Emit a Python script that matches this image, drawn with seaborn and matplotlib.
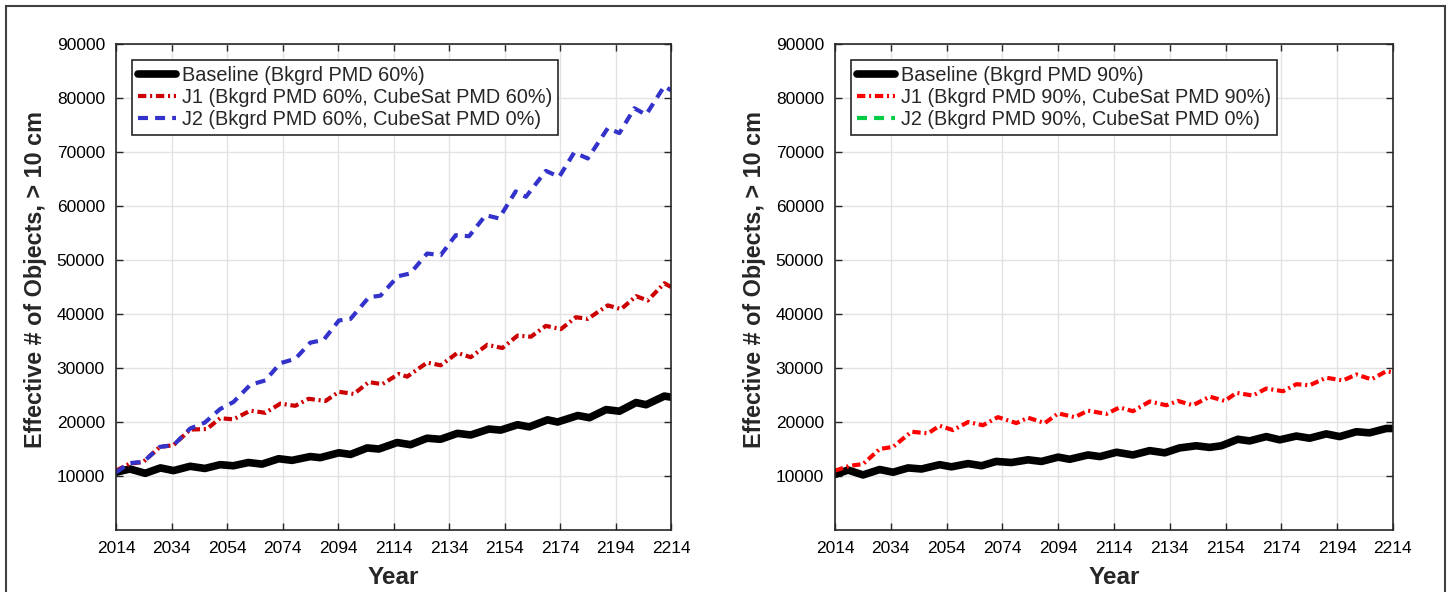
import matplotlib
matplotlib.use("Agg")
import matplotlib.pyplot as plt
import seaborn as sns
import pandas as pd
from matplotlib.lines import Line2D
from matplotlib.patches import Rectangle

# ---- left panel (Bkgrd PMD 60%) ----
base60_yr = [2014, 2019, 2024.5, 2030, 2034.7, 2040.7, 2046, 2051.5, 2056.3, 2061.7,
             2066.6, 2072.6, 2077.4, 2084, 2087.6, 2094.3, 2098.5, 2104.5, 2108.7, 2115.3,
             2120.1, 2126.1, 2130.9, 2137, 2141.8, 2148.4, 2152.6, 2158.7, 2162.9, 2169.5,
             2173.1, 2180.4, 2184.6, 2190.6, 2195.4, 2201.4, 2205, 2211.6, 2214]
base60_val = [10700, 11300, 10500, 11500, 11000, 11800, 11400, 12100, 11900, 12500,
              12200, 13200, 12900, 13600, 13400, 14300, 14000, 15200, 15000, 16200,
              15800, 17000, 16800, 17900, 17600, 18700, 18500, 19500, 19100, 20400,
              20000, 21200, 20800, 22300, 22000, 23600, 23200, 24800, 24600]

j1_60_yr = [2014, 2019, 2023.8, 2029.8, 2034.7, 2040.7, 2046.7, 2051.5, 2056.3, 2062.4,
            2067.8, 2073.2, 2078.6, 2083.4, 2089.5, 2094.3, 2099.7, 2105.1, 2109.9, 2115.9,
            2118.9, 2126.1, 2131, 2137, 2141.8, 2147.8, 2153.2, 2158.7, 2163.5, 2168.9,
            2174.3, 2179.7, 2184, 2191.2, 2196, 2201.4, 2205.6, 2211.6, 2214]
j1_60_val = [11000, 12300, 12600, 15400, 15700, 18600, 18700, 20700, 20500, 22100,
             21700, 23400, 23000, 24300, 23900, 25600, 25200, 27400, 27000, 28900,
             28400, 31000, 30500, 32800, 32000, 34300, 33700, 36000, 35800, 37800,
             37200, 39400, 39100, 41600, 40900, 43300, 42500, 45700, 45000]

j2_60_yr = [2014, 2019, 2023.8, 2029.8, 2034.7, 2040.7, 2046, 2051.5, 2056.3, 2062.4,
            2067.8, 2073.2, 2078.6, 2084, 2088.8, 2094.3, 2098.5, 2105.1, 2109.3, 2115.6,
            2120, 2126.1, 2131, 2136.4, 2141.2, 2147.2, 2152, 2158, 2161.7, 2168.9,
            2173.7, 2179.1, 2184, 2191.2, 2195.4, 2200.8, 2205, 2211.6, 2214]
j2_60_val = [10700, 12400, 12600, 15400, 15700, 18800, 19900, 22400, 23700, 26900,
             27700, 30900, 31700, 34700, 35200, 38800, 39100, 43100, 43400, 47000,
             47500, 51200, 50900, 54600, 54400, 58300, 57700, 62700, 61700, 66500,
             65400, 69900, 68800, 74400, 73500, 78100, 76900, 82200, 81400]

# ---- right panel (Bkgrd PMD 90%) ----
base90_yr = [2014, 2018.7, 2024, 2030, 2034.8, 2040.2, 2045, 2051.5, 2055.7, 2061.7,
             2066.5, 2071.8, 2077.2, 2083.2, 2088, 2094, 2098.1, 2104.7, 2109, 2114.9,
             2120.8, 2126.8, 2132.2, 2137.5, 2143.5, 2148.3, 2152.5, 2158.4, 2162.6, 2168.6,
             2173.4, 2179.4, 2184.1, 2190.1, 2194.9, 2200.9, 2205.6, 2211.6, 2214]
base90_val = [10300, 11100, 10200, 11200, 10700, 11500, 11300, 12100, 11700, 12300,
              11900, 12700, 12500, 13000, 12700, 13500, 13100, 13900, 13600, 14400,
              13900, 14700, 14300, 15200, 15600, 15300, 15600, 16800, 16500, 17300,
              16700, 17400, 17000, 17800, 17300, 18200, 18000, 18800, 18800]

j1_90_yr = [2014, 2019.3, 2024, 2030, 2034.8, 2041.4, 2047.3, 2051.5, 2056.3, 2061.7,
            2067, 2072.4, 2079, 2083.2, 2089.2, 2094, 2099.9, 2104.7, 2111.3, 2116,
            2120.8, 2126.8, 2132.8, 2136.9, 2142.3, 2148.3, 2153.7, 2157.9, 2163.8, 2168.6,
            2174.6, 2179.4, 2184.1, 2190.1, 2196.1, 2200.9, 2206.3, 2211.6, 2214]
j1_90_val = [11000, 11900, 12200, 15000, 15400, 18200, 17900, 19300, 18500, 20000,
             19400, 20900, 19800, 20800, 19800, 21600, 20900, 22100, 21500, 22700,
             22000, 23800, 23100, 23900, 23100, 24700, 23900, 25400, 24900, 26200,
             25700, 27000, 26800, 28200, 27700, 28800, 27900, 29400, 29200]

x_ticks = list(range(2014, 2215, 20))
y_ticks = list(range(10000, 90001, 10000))

sns.set_style("whitegrid")
plt.rcParams["font.family"] = ["Liberation Sans", "DejaVu Sans"]

fig = plt.figure(figsize=(14.49, 5.92), dpi=100)
ax1 = fig.add_axes([0.0801, 0.1047, 0.383, 0.821])
ax2 = fig.add_axes([0.5763, 0.1047, 0.385, 0.821])

dash = (0, (2.4, 1.7))
dashdot = (0, (2.0, 0.9, 0.5, 0.9))

sns.lineplot(x=base60_yr, y=base60_val, ax=ax1, color="black", lw=5.5,
             label="Baseline (Bkgrd PMD 60%)", solid_joinstyle="round")
sns.lineplot(x=j1_60_yr, y=j1_60_val, ax=ax1, color="#CC0000", lw=3,
             linestyle=dashdot, label="J1 (Bkgrd PMD 60%, CubeSat PMD 60%)")
sns.lineplot(x=j2_60_yr, y=j2_60_val, ax=ax1, color="#3333CC", lw=3,
             linestyle=dash, label="J2 (Bkgrd PMD 60%, CubeSat PMD 0%)")

sns.lineplot(x=base90_yr, y=base90_val, ax=ax2, color="black", lw=5.5,
             label="Baseline (Bkgrd PMD 90%)", solid_joinstyle="round")
sns.lineplot(x=j1_90_yr, y=j1_90_val, ax=ax2, color="#FF0000", lw=3,
             linestyle=dashdot, label="J1 (Bkgrd PMD 90%, CubeSat PMD 90%)")

for ax in (ax1, ax2):
    ax.set_xlim(2014, 2214)
    ax.set_ylim(0, 90000)
    ax.set_xticks(x_ticks)
    ax.set_yticks(y_ticks)
    ax.grid(True, color="#E3E3E3", lw=1)
    for s in ax.spines.values():
        s.set_visible(True)
        s.set_color("#262626")
        s.set_linewidth(1.2)
    ax.tick_params(direction="in", length=5, width=1, colors="#262626",
                   labelcolor="black", labelsize=12.5, top=True, right=True,
                   bottom=True, left=True, pad=8)
    ax.set_xlabel("Year", fontsize=17.5, fontweight="bold", labelpad=7)
    ax.set_ylabel("Effective # of Objects, > 10 cm", fontsize=16.8,
                  fontweight="bold")
    ax.yaxis.set_label_coords(-0.124, 0.515)

leg_kw = dict(loc="upper left", fontsize=14.3, frameon=True, fancybox=False,
              framealpha=1, edgecolor="#262626", handlelength=1.9,
              handletextpad=0.3, labelspacing=0.15, borderpad=0.3,
              borderaxespad=0.8)
ax1.legend(**leg_kw)
h, l = ax2.get_legend_handles_labels()
h.append(Line2D([], [], color="#00CC44", lw=3, linestyle=dash))
l.append("J2 (Bkgrd PMD 90%, CubeSat PMD 0%)")
ax2.legend(h, l, **leg_kw)
for lg in (ax1.get_legend(), ax2.get_legend()):
    lg.get_frame().set_linewidth(1.2)

fig.add_artist(Rectangle((6 / 1449, -0.1), 1439 / 1449, 1.0 - 6 / 592 + 0.1,
                         transform=fig.transFigure, fill=False,
                         edgecolor="#404040", lw=1.5))

fig.savefig("out.png", dpi=100)
